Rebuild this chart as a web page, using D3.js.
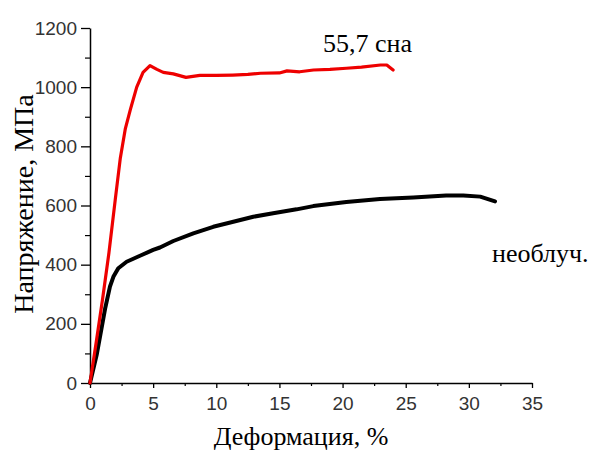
<!DOCTYPE html>
<html>
<head>
<meta charset="utf-8">
<script src="https://cdn.jsdelivr.net/npm/d3@7"></script>
<style>
  html, body { margin: 0; padding: 0; background: #fff; }
  svg { display: block; }
</style>
</head>
<body>
<svg id="chart" width="594" height="451"></svg>
<script>
// ---- data ----
const xTicks = [0, 5, 10, 15, 20, 25, 30, 35];
const yTicks = [0, 200, 400, 600, 800, 1000, 1200];
const xMinorTicks = [2.5, 7.5, 12.5, 17.5, 22.5, 27.5, 32.5];
const yMinorTicks = [100, 300, 500, 700, 900, 1100];

// irradiated (55,7 сна): [strain %, stress MPa]
const irradiated = [
  [0, 0], [0.5, 140], [1.0, 285], [1.5, 440], [2.0, 620], [2.4, 760],
  [2.8, 860], [3.2, 925], [3.7, 1000], [4.2, 1050], [4.75, 1073],
  [5.3, 1060], [5.8, 1050], [6.6, 1045], [7.6, 1033], [8.7, 1040],
  [10, 1040], [11.3, 1041], [12.5, 1043], [13.5, 1047], [15, 1048],
  [15.6, 1055], [16.6, 1052], [17.7, 1058], [19, 1060], [20.3, 1064],
  [21.5, 1068], [23, 1075], [23.5, 1075], [24, 1058]
];
// unirradiated (необлуч.)
const unirradiated = [
  [0, 0], [0.53, 95], [1.19, 250], [1.58, 326], [1.85, 359], [2.24, 388],
  [2.9, 410], [3.43, 420], [3.96, 430], [5.0, 450], [5.54, 458],
  [6.6, 480], [8.18, 506], [9.76, 528], [11.35, 545], [12.93, 562],
  [14.5, 574], [16.36, 587], [17.68, 598], [20.3, 612], [22.96, 622],
  [25.6, 627], [28.2, 634], [29.56, 634], [30.9, 630], [32.07, 614]
];

const labels = { x: "Деформация, %", y: "Напряжение, МПа", irr: "55,7 сна", unirr: "необлуч." };

// ---- layout ----
const svg = d3.select("#chart");
const x = d3.scaleLinear().domain([0, 35]).range([90, 532]);
const y = d3.scaleLinear().domain([0, 1200]).range([383, 28]);

// minor ticks
svg.append("g").attr("transform", "translate(0,383)")
  .call(d3.axisBottom(x).tickValues(xMinorTicks).tickSize(3).tickFormat(""))
  .call(g => g.select(".domain").remove())
  .selectAll("line").attr("stroke", "#000").attr("stroke-width", 1.2);
svg.append("g").attr("transform", "translate(90,0)")
  .call(d3.axisLeft(y).tickValues(yMinorTicks).tickSize(5).tickFormat(""))
  .call(g => g.select(".domain").remove())
  .selectAll("line").attr("stroke", "#000").attr("stroke-width", 1.2);

// major axes
const xAxis = svg.append("g").attr("transform", "translate(0,383)")
  .call(d3.axisBottom(x).tickValues(xTicks).tickFormat(d3.format("d"))
    .tickSize(5).tickPadding(9).tickSizeOuter(0));
const yAxis = svg.append("g").attr("transform", "translate(90,0)")
  .call(d3.axisLeft(y).tickValues(yTicks).tickFormat(d3.format("d"))
    .tickSize(9).tickPadding(4).tickSizeOuter(0));
[xAxis, yAxis].forEach(g => {
  g.select(".domain").attr("stroke", "#000").attr("stroke-width", 1.5);
  g.selectAll(".tick line").attr("stroke", "#000").attr("stroke-width", 1.3);
  g.selectAll(".tick text")
    .attr("font-family", "'Liberation Sans', Arial, sans-serif")
    .attr("font-size", 19).attr("fill", "#333");
});

// curves
const line = d3.line().x(d => x(d[0])).y(d => y(d[1]));
svg.append("path").datum(unirradiated)
  .attr("d", line).attr("fill", "none").attr("stroke", "#000")
  .attr("stroke-width", 4).attr("stroke-linejoin", "round").attr("stroke-linecap", "round");
svg.append("path").datum(irradiated)
  .attr("d", line).attr("fill", "none").attr("stroke", "#ee0000")
  .attr("stroke-width", 3.2).attr("stroke-linejoin", "round").attr("stroke-linecap", "round");

// titles
const serif = "'Liberation Serif', 'Times New Roman', serif";
svg.append("text").attr("x", 301).attr("y", 445).attr("text-anchor", "middle")
  .attr("font-family", serif).attr("font-size", 26).text(labels.x);
svg.append("text").attr("transform", "translate(33,204) rotate(-90)").attr("text-anchor", "middle")
  .attr("font-family", serif).attr("font-size", 28).text(labels.y);

// annotations
svg.append("text").attr("x", 323).attr("y", 52)
  .attr("font-family", serif).attr("font-size", 26).text(labels.irr);
svg.append("text").attr("x", 492).attr("y", 262)
  .attr("font-family", serif).attr("font-size", 26).text(labels.unirr);
</script>
</body>
</html>
